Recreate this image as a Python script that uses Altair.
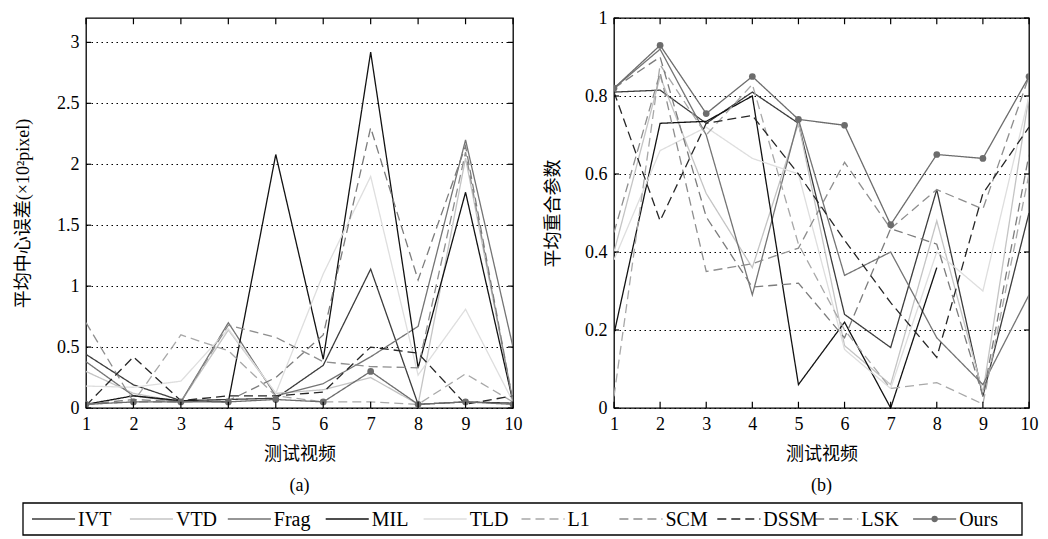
import altair as alt
import pandas as pd

videos = [1, 2, 3, 4, 5, 6, 7, 8, 9, 10]
series = ["IVT", "VTD", "Frag", "MIL", "TLD", "L1", "SCM", "DSSM", "LSK", "Ours"]

# (a) average center error (x10^2 pixel)
cle_IVT = [0.44, 0.19, 0.06, 0.07, 0.08, 0.35, 1.14, 0.03, 0.05, 0.04]
cle_VTD = [0.30, 0.12, 0.05, 0.64, 0.12, 0.15, 0.25, 0.03, 2.05, 0.05]
cle_Frag = [0.38, 0.10, 0.05, 0.70, 0.10, 0.20, 0.42, 0.67, 2.20, 0.50]
cle_MIL = [0.03, 0.10, 0.06, 0.05, 2.08, 0.40, 2.92, 0.33, 1.77, 0.05]
cle_TLD = [0.18, 0.17, 0.22, 0.65, 0.12, 1.10, 1.90, 0.27, 0.81, 0.05]
cle_L1 = [0.03, 0.05, 0.60, 0.47, 0.10, 0.05, 0.05, 0.03, 0.28, 0.05]
cle_SCM = [0.70, 0.05, 0.05, 0.68, 0.58, 0.38, 0.34, 0.33, 2.10, 0.05]
cle_DSSM = [0.02, 0.42, 0.06, 0.10, 0.10, 0.13, 0.50, 0.45, 0.03, 0.10]
cle_LSK = [0.03, 0.07, 0.05, 0.06, 0.25, 0.60, 2.30, 1.05, 2.15, 0.05]
cle_Ours = [0.03, 0.05, 0.05, 0.05, 0.07, 0.05, 0.30, 0.03, 0.05, 0.03]

# (b) average overlap
ov_IVT = [0.81, 0.815, 0.73, 0.81, 0.73, 0.24, 0.155, 0.56, 0.03, 0.50]
ov_VTD = [0.40, 0.85, 0.55, 0.36, 0.73, 0.16, 0.06, 0.48, 0.04, 0.80]
ov_Frag = [0.82, 0.92, 0.70, 0.29, 0.74, 0.34, 0.40, 0.18, 0.06, 0.29]
ov_MIL = [0.19, 0.73, 0.735, 0.80, 0.06, 0.22, 0.00, 0.36, None, None]
ov_TLD = [0.38, 0.66, 0.72, 0.64, 0.60, 0.15, 0.05, 0.40, 0.30, 0.80]
ov_L1 = [0.03, 0.88, 0.70, 0.83, 0.42, 0.20, 0.05, 0.065, 0.01, 0.60]
ov_SCM = [0.45, 0.86, 0.35, 0.37, 0.41, 0.63, 0.46, 0.56, 0.51, 0.85]
ov_DSSM = [0.81, 0.48, 0.73, 0.75, 0.60, 0.43, 0.27, 0.13, 0.55, 0.72]
ov_LSK = [0.82, 0.90, 0.49, 0.31, 0.32, 0.18, 0.46, 0.42, 0.03, 0.65]
ov_Ours = [0.82, 0.93, 0.755, 0.85, 0.74, 0.725, 0.47, 0.65, 0.64, 0.85]

cle_ticks = [0, 0.5, 1, 1.5, 2, 2.5, 3]
ov_ticks = [0, 0.2, 0.4, 0.6, 0.8, 1]

cle_data = [cle_IVT, cle_VTD, cle_Frag, cle_MIL, cle_TLD, cle_L1, cle_SCM, cle_DSSM, cle_LSK, cle_Ours]
ov_data = [ov_IVT, ov_VTD, ov_Frag, ov_MIL, ov_TLD, ov_L1, ov_SCM, ov_DSSM, ov_LSK, ov_Ours]

colors = ["#3c3c3c", "#c4c4c4", "#747474", "#121212", "#dedede",
          "#a8a8a8", "#8e8e8e", "#262626", "#7c7c7c", "#6c6c6c"]
dashes = [[1, 0], [1, 0], [1, 0], [1, 0], [1, 0],
          [9, 5], [9, 5], [9, 5], [9, 5], [1, 0]]

SERIF = "Liberation Serif, Noto Sans CJK SC"

# legend layout, in pixels relative to the left plot's left edge
BOX_L = -63
BOX_R = 936
ENTRY0 = -54
ENTRY_STEP = 97.9


def long_df(arrs):
    rows = []
    for name, vals in zip(series, arrs):
        for v, val in zip(videos, vals):
            rows.append({"series": name, "video": v, "value": val})
    return pd.DataFrame(rows)


def tick_df(ymax, yvals):
    rows = []
    ty = ymax * 0.016
    tx = 9 * 0.012
    for v in videos:
        rows.append({"a": v, "a2": v, "b": 0, "b2": ty})
        rows.append({"a": v, "a2": v, "b": ymax, "b2": ymax - ty})
    for v in yvals:
        rows.append({"a": 1, "a2": 1 + tx, "b": v, "b2": v})
        rows.append({"a": 10, "a2": 10 - tx, "b": v, "b2": v})
    return pd.DataFrame(rows)


color_enc = alt.Color("series:N", scale=alt.Scale(domain=series, range=colors), legend=None)
dash_enc = alt.StrokeDash("series:N", scale=alt.Scale(domain=series, range=dashes), legend=None)


def panel(arrs, ymax, yvals, ytitle, sub, w, h, tpad):
    df = long_df(arrs)
    xs = alt.Scale(domain=[1, 10], nice=False, zero=False)
    ys = alt.Scale(domain=[0, ymax], nice=False)
    xax = alt.Axis(values=videos, format="d", title="测试视频", grid=False, ticks=False,
                   labelPadding=7, titlePadding=12, labelFlush=False)
    yax = alt.Axis(values=yvals, format="~g", title=ytitle, grid=True, gridDash=[1.5, 3.5],
                   gridColor="black", gridWidth=1, ticks=False, labelPadding=7, titlePadding=tpad)
    base = alt.Chart(df)
    lines = base.mark_line(strokeWidth=1.3, clip=True).encode(
        x=alt.X("video:Q", scale=xs, axis=xax),
        y=alt.Y("value:Q", scale=ys, axis=yax),
        color=color_enc,
        strokeDash=dash_enc,
    )
    pts = base.transform_filter(alt.datum.series == "Ours").mark_point(
        filled=True, size=45, opacity=1, color="#6c6c6c", clip=True
    ).encode(
        x=alt.X("video:Q", scale=xs, axis=xax),
        y=alt.Y("value:Q", scale=ys, axis=yax),
    )
    ticks = alt.Chart(tick_df(ymax, yvals)).mark_rule(color="black", strokeWidth=1.2).encode(
        x=alt.X("a:Q", scale=xs, axis=xax),
        x2="a2:Q",
        y=alt.Y("b:Q", scale=ys, axis=yax),
        y2="b2:Q",
    )
    return alt.layer(lines, pts, ticks).properties(
        width=w, height=h,
        title=alt.TitleParams(sub, orient="bottom", font=SERIF, fontSize=18,
                              fontWeight="normal", color="black", offset=14),
    )


left = panel(cle_data, 3.2, cle_ticks, "平均中心误差(×10²pixel)", "(a)", 427, 390, 24)
right = panel(ov_data, 1.0, ov_ticks, "平均重合参数", "(b)", 415, 390, 22)

leg_df = pd.DataFrame({"series": series, "idx": list(range(len(series)))})
lx = alt.Scale(domain=[0, 9], range=[ENTRY0, ENTRY0 + 9 * ENTRY_STEP], nice=False, zero=False)
leg_base = alt.Chart(leg_df).transform_calculate(
    x0="datum.idx", x1="datum.idx + 0.44",
    xm="datum.idx + 0.22", xt="datum.idx + 0.46",
)
leg_box = alt.Chart(pd.DataFrame({"k": [0]})).mark_rect(
    fill="white", stroke="black", strokeWidth=1.3
).encode(
    x=alt.value(BOX_L), x2=alt.value(BOX_R), y=alt.value(0), y2=alt.value(32)
)
leg_lines = leg_base.mark_rule(strokeWidth=1.3).encode(
    x=alt.X("x0:Q", scale=lx, axis=None), x2="x1:Q", y=alt.value(16),
    color=color_enc, strokeDash=dash_enc,
)
leg_pts = leg_base.transform_filter(alt.datum.series == "Ours").mark_point(
    filled=True, size=40, opacity=1, color="#6c6c6c"
).encode(x=alt.X("xm:Q", scale=lx, axis=None), y=alt.value(16))
leg_text = leg_base.mark_text(align="left", baseline="middle", font=SERIF, fontSize=20,
                              color="black", dx=1).encode(
    x=alt.X("xt:Q", scale=lx, axis=None), y=alt.value(16.5), text="series:N"
)
legend = alt.layer(leg_box, leg_lines, leg_pts, leg_text).properties(
    width=BOX_R, height=32, view=alt.ViewBackground(stroke=None)
)

top = alt.hconcat(left, right, spacing=20)
chart = alt.vconcat(top, legend, spacing=6).properties(
    padding={"left": 5, "top": 0, "right": 0, "bottom": 0}
).configure_view(
    stroke="black", strokeWidth=1.3
).configure_axis(
    domain=False, labelFont="Liberation Serif", labelFontSize=18, labelColor="black",
    titleFont=SERIF, titleFontSize=18, titleFontWeight="normal", titleColor="black",
)

chart.save("out.html", embed_options={"renderer": "svg", "actions": False})
